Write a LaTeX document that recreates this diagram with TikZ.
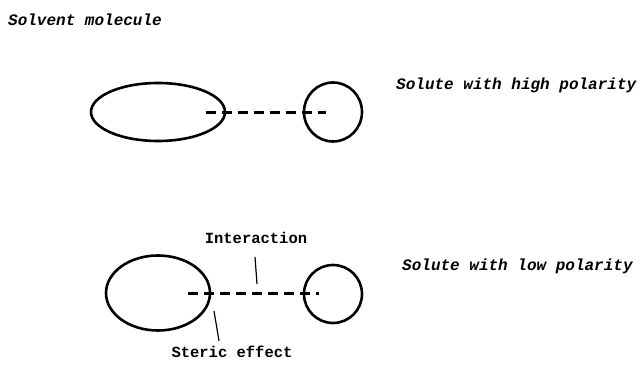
\documentclass[tikz,border=0pt]{standalone}
\usepackage{fontspec}
\newfontfamily\monofont{Liberation Mono}
\usetikzlibrary{shapes.geometric}
\tikzset{
  molecule/.style={draw, ellipse, line width=2.6pt, inner sep=0pt},
  bond/.style={line width=3pt, dash pattern=on 10pt off 6pt},
  pointer/.style={line width=1.2pt},
  caption/.style={font=\monofont\bfseries\itshape\fontsize{16}{18}\selectfont, inner sep=0pt, anchor=west},
  tag/.style={font=\monofont\bfseries\fontsize{15.5}{18}\selectfont, inner sep=0pt}
}
\begin{document}
\begin{tikzpicture}[x=1pt,y=-1pt]
\useasboundingbox (0,0) rectangle (643,371);

% high-polarity pair
\node[molecule, minimum width=134pt, minimum height=58pt] (solvA) at (158,112) {};
\node[molecule, minimum width=58pt, minimum height=59pt] (soluA) at (333,112) {};
\coordinate (bondAs) at (206,113);
\coordinate (bondAe) at (326,113);
\draw[bond] (bondAs) -- (bondAe);

% low-polarity pair
\node[molecule, minimum width=104pt, minimum height=75pt] (solvB) at (158,293) {};
\node[molecule, minimum width=58pt, minimum height=58pt] (soluB) at (333,294) {};
\coordinate (bondBs) at (188,294);
\coordinate (bondBe) at (319,294);
\draw[bond] (bondBs) -- (bondBe);

% labels
\node[caption] (lsolv) at (8,20) {Solvent molecule};
\node[caption] (lhigh) at (396,85) {Solute with high polarity};
\node[caption] (llow) at (402,266) {Solute with low polarity};
\node[tag] (linter) at (256,238) {Interaction};
\node[tag] (lsteric) at (232,352) {Steric effect};

% pointer ticks
\coordinate (interTop) at (255,257);
\coordinate (interBot) at (257,284);
\draw[pointer] (interTop) -- (interBot);
\coordinate (stericTop) at (214,311);
\coordinate (stericBot) at (219,341);
\draw[pointer] (stericTop) -- (stericBot);
\end{tikzpicture}
\end{document}
